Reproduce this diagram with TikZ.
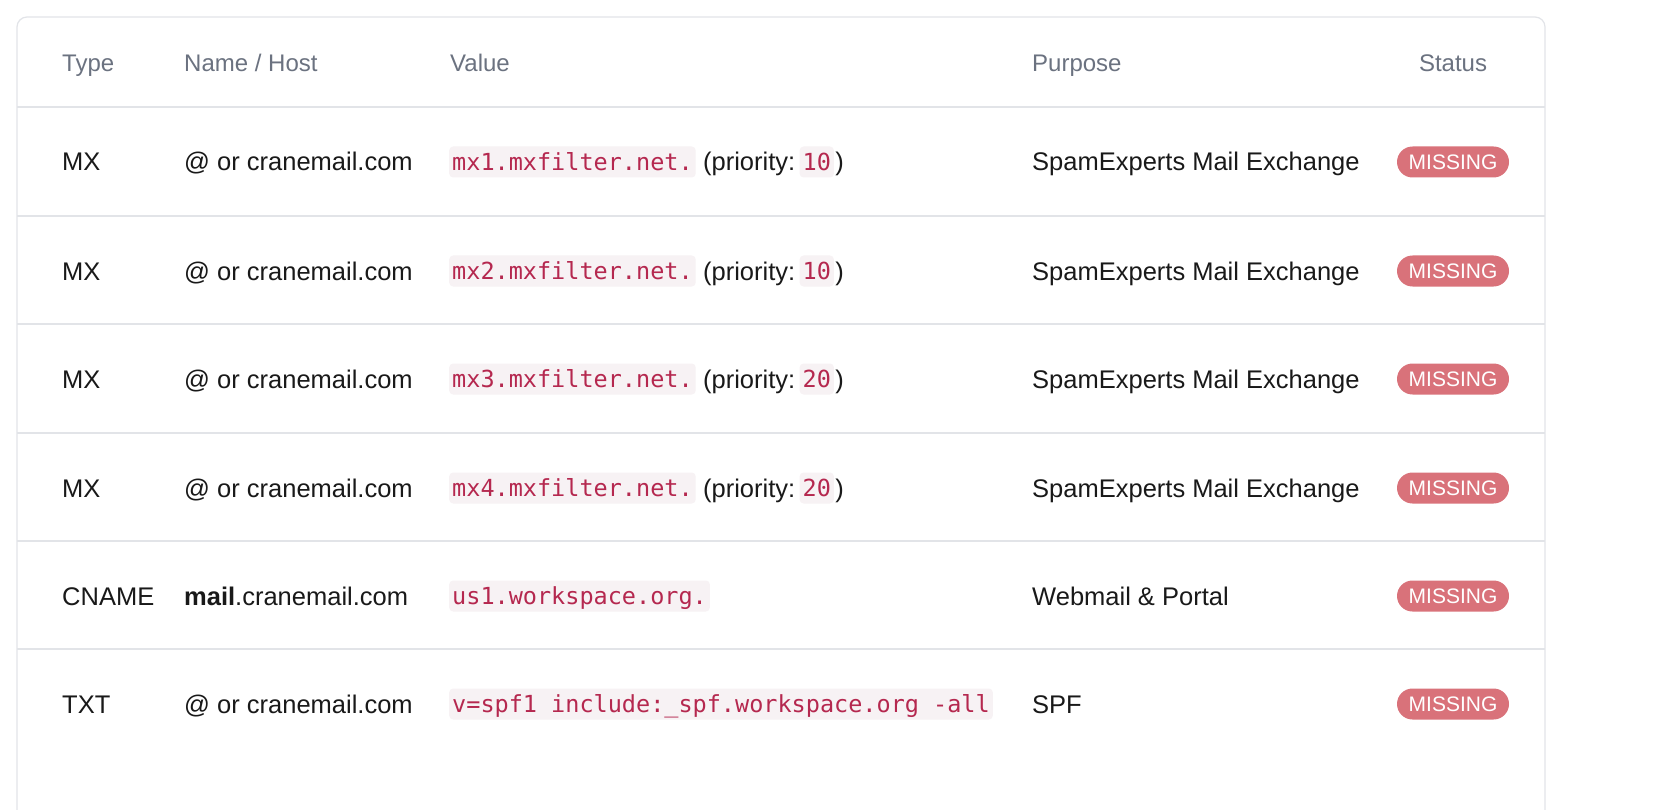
\documentclass[tikz,border=0pt]{standalone}
\usepackage{fontspec}
\setmainfont{Liberation Sans}
\newfontfamily\codefont{DejaVu Sans Mono}
\definecolor{hdr}{HTML}{6B7280}
\definecolor{rule}{HTML}{E2E4E8}
\definecolor{crim}{HTML}{B5284F}
\definecolor{codebg}{HTML}{F7F2F4}
\definecolor{badge}{HTML}{D9727A}
\tikzset{
  x=1pt,y=-1pt,
  hd/.style={anchor=west,inner sep=0,text height=17pt,text depth=0pt,text=hdr,font=\fontsize{24}{28}\selectfont},
  cell/.style={anchor=west,inner sep=0,text height=18pt,text depth=0pt,text=black!90,font=\fontsize{25.5}{30}\selectfont},
  code/.style={anchor=west,inner xsep=3pt,inner ysep=0,text height=17pt,text depth=0pt,minimum height=31,rounded corners=4pt,fill=codebg,text=crim,font=\codefont\fontsize{23.5}{28}\selectfont},
  badgebox/.style={fill=badge,text=white,rounded corners=15.5pt,minimum width=112,minimum height=31,inner sep=0,text height=15pt,text depth=0pt,font=\fontsize{21}{24}\selectfont},
  hline/.style={draw=rule,line width=1.2pt}
}
\begin{document}
\begin{tikzpicture}
\useasboundingbox (0,0) rectangle (1680,810);
\fill[white] (0,0) rectangle (1680,810);
\draw[rule,line width=1.2pt,rounded corners=10pt] (17,830) -- (17,17) -- (1545,17) -- (1545,830);
\node[hd] (h1) at (62,63) {Type};
\node[hd] (h2) at (184,63) {Name / Host};
\node[hd] (h3) at (450,63) {Value};
\node[hd] (h4) at (1032,63) {Purpose};
\node[hd,anchor=center] (h5) at (1453,63) {Status};
\foreach \yy in {107,216,324,433,541,649}{\draw[hline] (17,\yy) -- (1545,\yy);}
\foreach \n/\yy/\p in {1/162/10,2/271/10,3/379/20,4/488/20}{
  \node[cell] (t\n) at (62,\yy) {MX};
  \node[cell] (n\n) at (184,\yy) {@ or cranemail.com};
  \node[code] (v\n) at (449,\yy) {mx\n.mxfilter.net.};
  \node[cell,anchor=west] (pa\n) at ([xshift=7pt]v\n.east) {(priority:};
  \node[code] (pc\n) at ([xshift=4pt]pa\n.east) {\p};
  \node[cell] (pb\n) at ([xshift=1pt]pc\n.east) {)};
  \node[cell] (u\n) at (1032,\yy) {SpamExperts Mail Exchange};
  \node[badgebox] (s\n) at (1453,\yy) {MISSING};
}
\node[cell] (t5) at (62,596) {CNAME};
\node[cell] (n5) at (184,596) {\textbf{mail}.cranemail.com};
\node[code] (v5) at (449,596) {us1.workspace.org.};
\node[cell] (u5) at (1032,596) {Webmail \& Portal};
\node[badgebox] (s5) at (1453,596) {MISSING};
\node[cell] (t6) at (62,704) {TXT};
\node[cell] (n6) at (184,704) {@ or cranemail.com};
\node[code] (v6) at (449,704) {v=spf1 include:\_spf.workspace.org -all};
\node[cell] (u6) at (1032,704) {SPF};
\node[badgebox] (s6) at (1453,704) {MISSING};
\end{tikzpicture}
\end{document}
